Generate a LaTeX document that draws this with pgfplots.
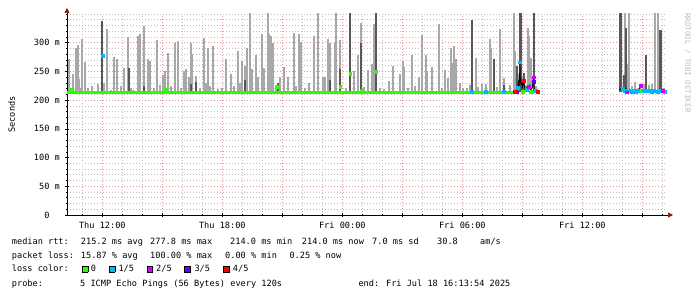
\documentclass[border=0pt]{standalone}
\usepackage{fontspec}
\setmainfont{DejaVu Sans Mono}
\usepackage{pgfplots}
\usepackage{pgfplotstable}
\pgfplotsset{compat=1.18}
\usetikzlibrary{arrows.meta}
\definecolor{smokeL}{RGB}{168,168,168}
\definecolor{smokeD}{RGB}{88,88,88}
\definecolor{lossA}{RGB}{38,255,0}
\definecolor{lossB}{RGB}{0,184,255}
\definecolor{lossC}{RGB}{208,0,255}
\definecolor{lossD}{RGB}{90,0,255}
\definecolor{lossE}{RGB}{255,0,0}
\definecolor{majgrid}{RGB}{225,150,150}
\definecolor{mingrid}{RGB}{190,190,190}
\definecolor{arrowred}{RGB}{140,20,20}
\definecolor{wmark}{RGB}{190,190,190}
\newcommand{\lfont}{\fontsize{8.6pt}{10pt}\selectfont}
\newcommand{\lbox}[1]{{\setlength{\fboxsep}{0pt}\setlength{\fboxrule}{0.6pt}\fbox{\textcolor{#1}{\rule{5.2pt}{5.2pt}}}}}

% hours since Thu 00:00, top of smoke (ms)
\pgfplotstableread{
h top
10.34 271
10.45 222
10.55 245
10.68 291
10.73 291
10.77 296
10.82 237
10.9 222
11.0 307
11.15 266
11.3 222
11.5 224
11.8 228
12.08 230
12.22 324
12.45 218
12.57 275
12.75 272
12.95 225
13.08 256
13.28 310
13.45 222
13.55 218
13.78 312
13.87 316
14.07 329
14.28 272
14.4 269
14.6 222
14.75 304
14.9 226
15.05 244
15.15 250
15.3 282
15.45 225
15.62 300
15.77 303
15.95 222
16.1 250
16.18 254
16.35 240
16.44 300
16.5 280
16.67 242
16.9 222
17.08 308
17.18 230
17.27 290
17.4 225
17.55 295
17.8 220
18.0 222
18.2 271
18.44 246
18.6 225
18.77 286
18.9 230
19.0 269
19.15 260
19.22 290
19.37 355
19.5 254
19.67 279
19.8 240
19.97 316
20.1 256
20.27 355
20.35 316
20.42 311
20.55 300
20.7 226
20.9 240
21.09 257
21.3 240
21.57 317
21.7 225
21.82 315
21.95 301
22.15 222
22.35 230
22.57 311
22.8 355
23.02 240
23.15 240
23.27 307
23.37 300
23.64 299
23.7 355
23.89 305
24.17 222
24.59 250
24.77 279
24.94 334
25.1 223
25.27 252
25.47 263
25.59 333
25.9 222
26.09 220
26.35 234
26.55 260
26.89 246
27.02 269
27.1 258
27.3 222
27.49 279
27.65 224
27.82 241
27.99 314
28.2 279
28.25 249
28.49 257
28.82 333
29.0 222
29.15 252
29.28 238
29.42 291
29.52 265
29.57 295
29.69 271
29.89 230
30.05 222
30.23 222
30.38 226
30.67 273
30.8 223
30.99 228
31.18 228
31.39 307
31.44 291
31.72 223
31.87 324
31.9 320
32.08 238
32.39 226
32.6 355
32.63 285
32.83 246
32.97 240
33.18 226
33.29 326
33.33 312
33.45 273
33.7 225
38.15 355
38.27 263
38.35 355
38.5 225
38.62 232
38.82 222
38.9 225
39.07 228
39.32 226
39.49 228
39.65 355
39.77 355
40.07 222
}\lightsmoke

\pgfplotstableread{
h top
12.0 338
13.33 256
14.07 225
16.44 228
16.67 232
19.15 235
20.78 230
23.37 235
23.89 254
24.39 355
24.94 300
25.69 355
30.48 340
31.57 272
32.08 226
32.75 260
32.9 355
32.94 355
33.07 247
33.59 355
37.88 355
37.92 355
38.07 244
38.19 326
39.17 279
39.9 323
39.95 323
}\darksmoke

\begin{document}
\begin{tikzpicture}
\useasboundingbox (0pt,0pt) rectangle (697pt,297pt);
\begin{axis}[
  at={(67pt,82pt)}, anchor=south west,
  scale only axis, width=600pt, height=201pt,
  xmin=10.2317, xmax=40.2317, ymin=0, ymax=350,
  axis lines=left,
  axis line style={black, line width=0.7pt},
  x axis line style={-{Triangle[length=5pt,width=5pt,color=arrowred]}, shorten >=-6pt},
  y axis line style={-{Triangle[length=5pt,width=5pt,color=arrowred]}, shorten >=-6pt},
  xtick={12,15,...,39},
  xticklabels={Thu 12:00,,Thu 18:00,,Fri 00:00,,Fri 06:00,,Fri 12:00,},
  minor xtick={11,13,14,16,17,19,20,22,23,25,26,28,29,31,32,34,35,37,38,40},
  ytick={0,50,...,300},
  yticklabels={0\hphantom{~m},50 m,100 m,150 m,200 m,250 m,300 m},
  minor ytick={10,20,30,40,60,70,80,90,110,120,130,140,160,170,180,190,210,220,230,240,260,270,280,290,310,320,330,340,350},
  grid=both,
  major grid style={majgrid, dash pattern=on 1pt off 2pt, line width=0.7pt},
  minor grid style={mingrid, dash pattern=on 1pt off 2pt, line width=0.7pt},
  tick align=center, major tick length=4pt, minor tick length=2.5pt,
  tick style={black, line width=0.6pt},
  ticklabel style={font=\lfont, inner sep=0pt},
  yticklabel style={anchor=east, xshift=-5pt},
  xticklabel style={anchor=north, yshift=-4.5pt},
]
\addplot[draw=none, mark=none, forget plot,
  error bars/.cd, y dir=plus, y explicit, error mark=none,
  error bar style={draw=smokeL, line width=2pt}]
  table[x=h, y expr=214, y error expr=\thisrow{top}-214] {\lightsmoke};
\addplot[draw=none, mark=none, forget plot,
  error bars/.cd, y dir=plus, y explicit, error mark=none,
  error bar style={draw=smokeD, line width=2pt}]
  table[x=h, y expr=214, y error expr=\thisrow{top}-214] {\darksmoke};
% median, no loss
\addplot[lossA, line width=3.2pt, mark=none] coordinates {(10.2317,214)(32.56,214)};
% median in lossy periods
\addplot[black, line width=0.8pt, mark=none] coordinates {
(32.55,214)(32.62,216)(32.67,214)(32.72,222)(32.77,218)(32.8,230)(32.84,222)(32.88,266)(32.9,238)(32.93,228)(32.97,230)(33.0,222)(33.05,234)(33.1,225)(33.15,218)(33.22,222)(33.28,218)(33.35,226)(33.42,218)(33.5,222)(33.55,240)(33.6,218)(33.7,216)(33.78,215)};
\addplot[black, line width=0.8pt, mark=none] coordinates {
(37.85,218)(37.95,220)(38.05,217)(38.15,221)(38.25,216)(38.35,219)(38.45,215)(38.55,217)(38.65,214)(38.75,216)(38.85,220)(38.95,218)(39.05,216)(39.15,219)(39.25,215)(39.35,217)(39.45,214)(39.55,216)(39.65,218)(39.75,215)(39.85,217)(39.95,219)(40.05,215)(40.12,216)};
% loss colours
\addplot[only marks, mark=square*, mark size=1.4pt, lossA] coordinates {
(10.47,218)(15.17,218)(20.78,224)(23.89,224)(24.39,246)(24.94,216)(25.69,250)(32.7,214)(33.0,215)(33.4,215)(33.48,214)(38.8,216)(38.9,216)(40.12,214)};
\addplot[only marks, mark=square*, mark size=1.4pt, lossB] coordinates {
(12.0,277)(30.48,215)(31.15,215)(32.05,215)(32.78,221)(32.88,266)(33.2,218)(33.65,216)(38.0,220)(38.1,217)(38.3,216)(38.45,215)(38.55,217)(38.65,214)(38.75,216)(39.05,216)(39.2,216)(39.35,216)(39.45,214)(39.55,216)(39.75,215)(39.9,216)(40.1,215)};
\addplot[only marks, mark=square*, mark size=1.4pt, lossC] coordinates {
(33.3,223)(33.57,240)(38.2,214)(38.9,225)(40.0,217)};
\addplot[only marks, mark=square*, mark size=1.4pt, lossD] coordinates {
(32.74,214)(33.55,232)};
\addplot[only marks, mark=square*, mark size=1.4pt, lossE] coordinates {
(32.62,215)(33.07,234)(33.78,215)};
\end{axis}
\node[rotate=90, anchor=base, font=\lfont, inner sep=0pt] at (15pt,182.5pt) {Seconds};
\node[rotate=-90, anchor=base west, text=wmark, inner sep=0pt, font=\fontsize{7.5pt}{8pt}\selectfont] at (685pt,284pt) {RRDTOOL / TOBI OETIKER};
% legend text
\begin{scope}[every node/.style={anchor=base west, inner sep=0pt, font=\lfont}]
\node at (11.7pt,52.7pt) {median rtt:};
\node at (80.7pt,52.7pt) {215.2 ms avg};
\node at (150pt,52.7pt) {277.8 ms max};
\node at (230pt,52.7pt) {214.0 ms min};
\node at (301.7pt,52.7pt) {214.0 ms now};
\node at (372pt,52.7pt) {7.0 ms sd};
\node at (437pt,52.7pt) {30.8};
\node at (480pt,52.7pt) {am/s};
\node at (11.7pt,38.7pt) {packet loss:};
\node at (80.7pt,38.7pt) {15.87 \% avg};
\node at (150pt,38.7pt) {100.00 \% max};
\node at (225pt,38.7pt) {0.00 \% min};
\node at (289.3pt,38.7pt) {0.25 \% now};
\node at (11.7pt,25.3pt) {loss color:};
\node at (81.7pt,25.3pt) {\lbox{lossA}};
\node at (90.7pt,25.3pt) {0};
\node at (108.7pt,25.3pt) {\lbox{lossB}};
\node at (118.3pt,25.3pt) {1/5};
\node at (146.4pt,25.3pt) {\lbox{lossC}};
\node at (156pt,25.3pt) {2/5};
\node at (184pt,25.3pt) {\lbox{lossD}};
\node at (194.3pt,25.3pt) {3/5};
\node at (223pt,25.3pt) {\lbox{lossE}};
\node at (232.7pt,25.3pt) {4/5};
\node at (11.7pt,10.3pt) {probe:};
\node at (80pt,10.3pt) {5 ICMP Echo Pings (56 Bytes) every 120s};
\node at (358.3pt,10.3pt) {end: Fri Jul 18 16:13:54 2025};
\end{scope}
\end{tikzpicture}
\end{document}
